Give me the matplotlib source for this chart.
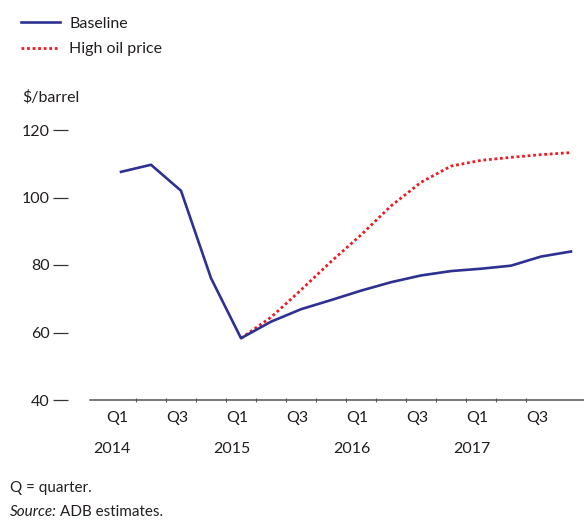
import numpy as np
import matplotlib.pyplot as plt

plt.rcParams['font.family'] = ['Lato', 'DejaVu Sans']

# quarters Q1 2014 .. Q4 2017
quarters = ['Q1', 'Q2', 'Q3', 'Q4'] * 4
years = ['2014', '2015', '2016', '2017']
baseline = [107.6, 109.7, 102.0, 76.1, 58.3, 63.2, 66.9, 69.6,
            72.4, 74.9, 76.9, 78.2, 78.9, 79.8, 82.5, 84.0]
high_oil = [None, None, None, None, 58.3, 64.5, 72.6, 81.0,
            88.9, 97.5, 104.5, 109.3, 111.0, 111.9, 112.7, 113.3]
y_ticks = [40, 60, 80, 100, 120]

txt = '#231f20'
W, H = 584, 521
fig = plt.figure(figsize=(W / 100, H / 100), dpi=100)
ax = fig.add_axes([90 / W, 121 / H, 494 / W, 270 / H])

x = np.arange(len(baseline))
hx = [i for i, v in enumerate(high_oil) if v is not None]
hy = [v for v in high_oil if v is not None]

ax.plot(x, baseline, color='#2e3192', lw=1.9, label='Baseline', zorder=3)
ax.plot(hx, hy, color='#ed1c24', lw=2.0, linestyle=(0, (1, 1)), label='High oil price', zorder=2)

ax.set_xlim(-31 / 30, 463 / 30)
ax.set_ylim(40, 120)

for s in ['top', 'right']:
    ax.spines[s].set_visible(False)
ax.spines['left'].set_position(('outward', 16))
ax.spines['left'].set_visible(False)
ax.spines['bottom'].set_color('#555555')
ax.spines['bottom'].set_linewidth(1.1)

ax.set_yticks(y_ticks)
ax.tick_params(axis='y', length=11, width=0.9, color='#333333', pad=2,
               labelsize=11.5, labelcolor=txt)

# x: small separators between quarters, labels as text below
ax.set_xticks([])
ax.set_xticks(np.arange(0.5, 14, 1), minor=True)
ax.tick_params(axis='x', which='minor', direction='inout', length=3, width=0.8, color='#555555')

def px_x(i):
    # data index -> figure pixel
    return 90 + (i + 31 / 30) * 30

for i in range(0, len(quarters), 2):
    fig.text((px_x(i) - 4) / W, 1 - 418 / H, quarters[i], fontsize=11.5,
             color=txt, ha='center', va='center')
for k, yr in enumerate(years):
    fig.text((px_x(4 * k) - 9) / W, 1 - 449 / H, yr, fontsize=11.5,
             color=txt, ha='center', va='center')

fig.text(22 / W, 1 - 97 / H, '$/barrel', fontsize=11.5, color=txt, ha='left', va='center')

fig.legend(loc='upper left', bbox_to_anchor=(15 / W, 1 - 10 / H), frameon=False,
           fontsize=11.5, handlelength=2.4, handletextpad=0.6, labelspacing=0.72,
           borderaxespad=0, labelcolor=txt)

fig.text(10 / W, 1 - 488 / H, 'Q = quarter.', fontsize=11, color=txt, ha='left', va='center')
t1 = fig.text(10 / W, 1 - 512 / H, 'Source:', fontsize=11, color=txt, ha='left',
              va='center', style='italic')
fig.canvas.draw()
bb = t1.get_window_extent()
fig.text((bb.x1 + 3) / W, 1 - 512 / H, 'ADB estimates.', fontsize=11, color=txt,
         ha='left', va='center')

fig.savefig('out.png', dpi=100)
